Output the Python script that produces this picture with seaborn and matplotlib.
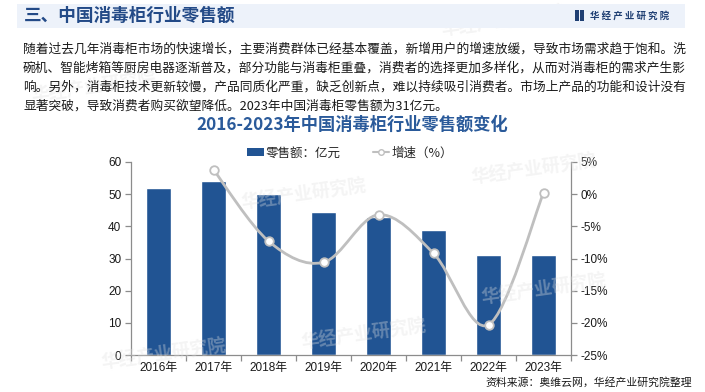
import numpy as np
import pandas as pd
import matplotlib.pyplot as plt
import seaborn as sns
from matplotlib.path import Path
from matplotlib.patches import PathPatch, Patch, Rectangle
from matplotlib.lines import Line2D

# data
years = ['2016年', '2017年', '2018年', '2019年', '2020年', '2021年', '2022年', '2023年']
sales = [52, 54, 50, 44.5, 43, 39, 31, 31]            # 零售额 亿元
growth_years = years[1:]
growth = [3.8, -7.3, -10.6, -3.2, -9.2, -20.3, 0.2]   # 增速 %

paragraph = [
    '随着过去几年消毒柜市场的快速增长，主要消费群体已经基本覆盖，新增用户的增速放缓，导致市场需求趋于饱和。洗',
    '碗机、智能烤箱等厨房电器逐渐普及，部分功能与消毒柜重叠，消费者的选择更加多样化，从而对消毒柜的需求产生影',
    '响。另外，消毒柜技术更新较慢，产品同质化严重，缺乏创新点，难以持续吸引消费者。市场上产品的功能和设计没有',
    '显著突破，导致消费者购买欲望降低。2023年中国消毒柜零售额为31亿元。',
]

sns.set_theme(style='white')
plt.rcParams['font.family'] = ['Liberation Sans', 'Noto Sans CJK SC']
CJK = ['Noto Sans CJK SC', 'DejaVu Sans']

W, H = 705, 392
def fx(px):
    return px / W
def fy(py):
    return 1 - py / H

fig = plt.figure(figsize=(W / 100, H / 100), dpi=100)
fig.patch.set_facecolor('white')

# faint watermarks
marks = [(440, 22), (240, 195), (30, 88), (300, 335), (470, 170), (480, 290), (100, 355)]
for mx, my in marks:
    fig.text(fx(mx), fy(my), '华经产业研究院', family=CJK, fontsize=13, fontweight='bold',
             color='#e0e0e0', alpha=0.35, rotation=8, ha='left', va='center', zorder=0)

# header band
fig.patches.append(Rectangle((fx(17), fy(28)), fx(668), 24 / H, transform=fig.transFigure,
                             facecolor='#edf2fa', edgecolor='none', zorder=1))
fig.text(fx(24), fy(16), '三、中国消毒柜行业零售额', family=CJK, fontsize=12.7, fontweight='bold',
         color='#234a87', ha='left', va='center', zorder=2)
fig.patches.append(Rectangle((fx(575), fy(21)), 3.5 / W, 11 / H, transform=fig.transFigure,
                             facecolor='#1f3f73', edgecolor='none', zorder=2))
fig.patches.append(Rectangle((fx(580), fy(21)), 4 / W, 11 / H, transform=fig.transFigure,
                             facecolor='#1f3f73', edgecolor='none', zorder=2))
fig.text(fx(590), fy(15.5), '华 经 产 业 研 究 院', family=CJK, fontsize=6.8, fontweight='bold',
         color='#1f3f73', ha='left', va='center', zorder=2)

# paragraph
for i, line in enumerate(paragraph):
    fig.text(fx(23), fy(49 + i * 18.9), line, family=CJK, fontsize=9.15, color='#1a1a1a',
             ha='left', va='center')

# chart title
fig.text(fx(352), fy(125), '2016-2023年中国消毒柜行业零售额变化', family=CJK, fontsize=12.4,
         fontweight='bold', color='#2a5a9a', ha='center', va='center')

# axes
ax = fig.add_axes([fx(131), fy(355), 440 / W, 193 / H])
ax.patch.set_alpha(0)
bar_color = '#215493'
sns.barplot(x=years, y=sales, color=bar_color, saturation=1, width=0.44, ax=ax, zorder=2)
ax.set_ylim(0, 60)
ax.set_yticks(range(0, 61, 10))
ax.set_xlim(-0.5, len(years) - 0.5)
ax.set_xlabel('')
ax.set_ylabel('')

ax2 = ax.twinx()
ax2.set_ylim(-25, 5)
ax2.set_yticks(range(-25, 6, 5))
ax2.set_yticklabels([f'{v}%' for v in range(-25, 6, 5)])

# smoothed growth line (Catmull-Rom style bezier through the points)
xs = np.array([years.index(y) for y in growth_years], dtype=float)
ys = np.array(growth, dtype=float)
pts = np.column_stack([xs, ys])
verts = [pts[0]]
codes = [Path.MOVETO]
n = len(pts)
for i in range(n - 1):
    p0 = pts[max(i - 1, 0)]
    p1 = pts[i]
    p2 = pts[i + 1]
    p3 = pts[min(i + 2, n - 1)]
    c1 = p1 + (p2 - p0) / 6
    c2 = p2 - (p3 - p1) / 6
    verts += [c1, c2, p2]
    codes += [Path.CURVE4] * 3
line_color = '#bfbfbf'
ax2.add_patch(PathPatch(Path(verts, codes), facecolor='none', edgecolor=line_color,
                        linewidth=2, zorder=3))
sns.scatterplot(x=xs, y=ys, ax=ax2, s=38, color='white', edgecolor=line_color,
                linewidth=1.3, zorder=4, legend=False)
ax2.set_xlim(-0.5, len(years) - 0.5)

# spines and ticks
axis_color = '#8c8c8c'
for a in (ax, ax2):
    a.spines['top'].set_visible(False)
    for side in ('left', 'right', 'bottom'):
        a.spines[side].set_color(axis_color)
        a.spines[side].set_linewidth(0.9)
ax.spines['right'].set_visible(False)
ax2.spines['left'].set_visible(False)
ax2.spines['bottom'].set_visible(False)

ax.tick_params(axis='y', which='major', left=True, length=4, width=0.9, color=axis_color,
               labelsize=8.5, labelcolor='#1a1a1a', pad=3)
ax2.tick_params(axis='y', which='major', right=True, length=4, width=0.9, color=axis_color,
                labelsize=8.5, labelcolor='#1a1a1a', pad=3)
ax.set_xticks(np.arange(-0.5, len(years), 1.0), minor=True)
ax.tick_params(axis='x', which='major', length=0, labelsize=8.5, labelcolor='#1a1a1a', pad=5)
ax.tick_params(axis='x', which='minor', bottom=True, length=4, width=0.9, color=axis_color)
ax.grid(False)
ax2.grid(False)

# legend
handles = [
    Patch(facecolor=bar_color, edgecolor='none'),
    Line2D([0], [0], color=line_color, linewidth=1.5, marker='o', markersize=4,
           markerfacecolor='white', markeredgecolor=line_color),
]
fig.legend(handles, ['零售额：亿元', '增速（%）'], loc='center', bbox_to_anchor=(fx(350), fy(153)),
           ncol=2, frameon=False, handlelength=1.3, handleheight=0.55,
           handletextpad=0.15, columnspacing=2.6, prop={'family': CJK, 'size': 9})

# source
fig.text(fx(485), fy(382), '资料来源：奥维云网，华经产业研究院整理', family=CJK, fontsize=7.8,
         color='#1a1a1a', ha='left', va='center')

fig.savefig('out.png', dpi=100)
